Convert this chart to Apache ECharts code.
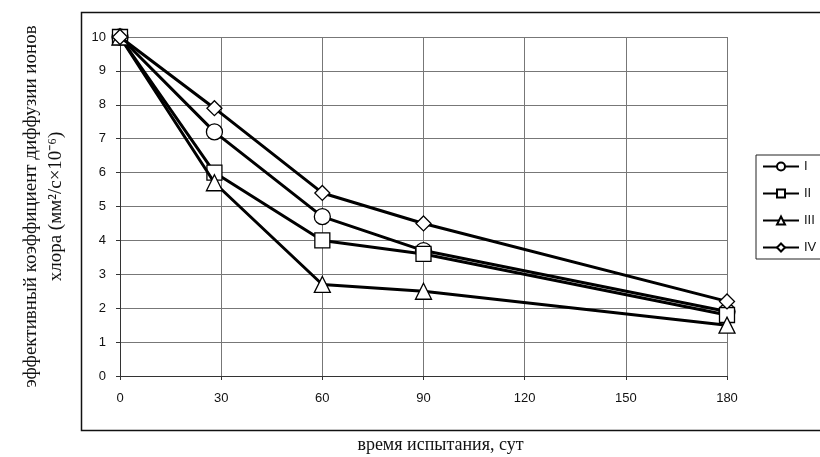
<!DOCTYPE html>
<html><head><meta charset="utf-8">
<script src="https://cdn.jsdelivr.net/npm/echarts@6/dist/echarts.min.js"></script>
<style>html,body{margin:0;padding:0;background:#fff}#c{width:820px;height:457px}</style>
</head><body><div id="c"></div>
<script>
const days = [0, 28, 60, 90, 180];
const seriesNames = ['I', 'II', 'III', 'IV'];
const valuesI = [10, 7.2, 4.7, 3.7, 1.9];
const valuesII = [10, 6.0, 4.0, 3.6, 1.8];
const valuesIII = [10, 5.7, 2.7, 2.5, 1.5];
const valuesIV = [10, 7.9, 5.4, 4.5, 2.2];
const xTitle = 'время испытания, сут';
const yTitle = 'эффективный коэффициент диффузии ионов\nхлора (мм²/с×10⁻⁶)';

const allValues = [valuesI, valuesII, valuesIII, valuesIV];
const symbols = ['circle', 'rect', 'triangle', 'diamond'];
const sizes = [16, 15, 16, 15];

const chart = echarts.init(document.getElementById('c'));
chart.setOption({
  animation: false,
  backgroundColor: '#fff',
  graphic: [{
    type: 'rect', left: 79, top: 10, z: -10,
    shape: { width: 800, height: 418 },
    style: { fill: 'none', stroke: '#111', lineWidth: 1.5 }
  }],
  grid: { left: 120, top: 37, right: 93, bottom: 81, containLabel: false, outerBoundsMode: 'none' },
  legend: {
    orient: 'vertical', left: 756, top: 155,
    padding: [5, 12, 5, 6],
    borderColor: '#222', borderWidth: 1,
    itemWidth: 36, itemHeight: 10, itemGap: 14,
    textStyle: { fontFamily: 'Liberation Sans', fontSize: 13, color: '#111' },
    data: seriesNames
  },
  xAxis: {
    type: 'value', min: 0, max: 180, interval: 30,
    name: xTitle, nameLocation: 'middle', nameGap: 60,
    nameTextStyle: { fontFamily: 'Liberation Serif', fontSize: 18, color: '#111', padding: [0, 0, 0, 34] },
    axisLine: { lineStyle: { color: '#333', width: 1 } },
    axisTick: { show: true, length: 4, lineStyle: { color: '#333' } },
    axisLabel: { fontFamily: 'Liberation Sans', fontSize: 13, color: '#111', margin: 16 },
    splitLine: { show: true, lineStyle: { color: '#777', width: 1 } }
  },
  yAxis: {
    type: 'value', min: 0, max: 10, interval: 1,
    name: yTitle, nameLocation: 'middle', nameGap: 51, nameRotate: 90,
    nameTextStyle: { fontFamily: 'Liberation Serif', fontSize: 19, color: '#111', lineHeight: 25 },
    axisLine: { show: true, lineStyle: { color: '#333', width: 1 } },
    axisTick: { show: true, length: 4, lineStyle: { color: '#333' } },
    axisLabel: { fontFamily: 'Liberation Sans', fontSize: 13, color: '#111', margin: 14 },
    splitLine: { show: true, lineStyle: { color: '#777', width: 1 } }
  },
  series: allValues.map((vals, i) => ({
    name: seriesNames[i],
    type: 'line',
    data: days.map((d, j) => [d, vals[j]]),
    symbol: symbols[i],
    symbolSize: sizes[i],
    showAllSymbol: true,
    lineStyle: { color: '#000', width: 3 },
    itemStyle: { color: '#fff', borderColor: '#000', borderWidth: 1.3 },
    emphasis: { disabled: true },
    z: 2 + i
  }))
});
</script></body></html>
